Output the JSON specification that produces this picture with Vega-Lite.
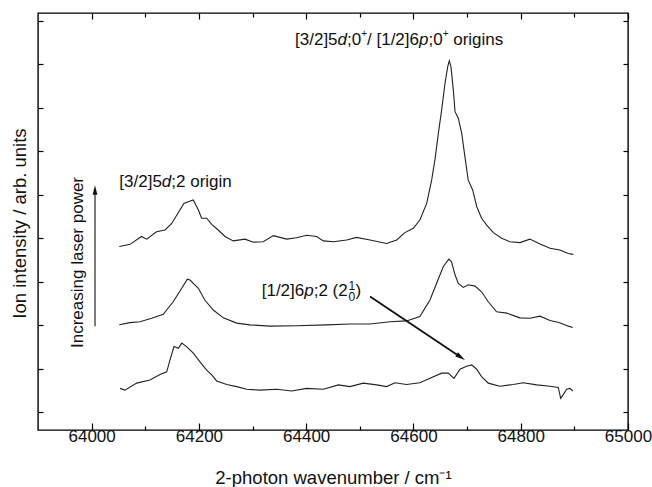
{
  "$schema": "https://vega.github.io/schema/vega-lite/v6.json",
  "width": 590,
  "height": 417,
  "autosize": "none",
  "padding": {"left": 38, "top": 13, "right": 24, "bottom": 57},
  "background": "white",
  "config": {
    "view": {"stroke": "black", "strokeWidth": 1.4},
    "axis": {"domain": false, "grid": false, "tickColor": "black", "tickWidth": 1.2, "labelFont": "Liberation Sans", "labelFontSize": 17, "labelColor": "#111", "titleFont": "Liberation Sans", "titleFontSize": 18.5, "titleFontWeight": "normal", "titleColor": "#111"}
  },
  "datasets": {
    "spectra": [
      {"s":"top","x":64051.6,"y":3.81},{"s":"top","x":64071.5,"y":3.86},{"s":"top","x":64093,"y":4.04},{"s":"top","x":64102.6,"y":3.98},{"s":"top","x":64121,"y":4.15},{"s":"top","x":64136.8,"y":4.19},{"s":"top","x":64149.3,"y":4.34},{"s":"top","x":64158.6,"y":4.53},{"s":"top","x":64172,"y":4.8},{"s":"top","x":64180,"y":4.84},{"s":"top","x":64189.6,"y":4.88},{"s":"top","x":64199,"y":4.65},{"s":"top","x":64205,"y":4.46},{"s":"top","x":64214.5,"y":4.46},{"s":"top","x":64223.9,"y":4.32},{"s":"top","x":64236,"y":4.19},{"s":"top","x":64248.7,"y":4.04},{"s":"top","x":64264,"y":3.94},{"s":"top","x":64286,"y":3.98},{"s":"top","x":64301.5,"y":3.91},{"s":"top","x":64320,"y":3.92},{"s":"top","x":64338.7,"y":4.06},{"s":"top","x":64363.7,"y":3.98},{"s":"top","x":64382,"y":4.01},{"s":"top","x":64401,"y":4.07},{"s":"top","x":64419.6,"y":4.04},{"s":"top","x":64432,"y":3.94},{"s":"top","x":64450.6,"y":3.92},{"s":"top","x":64475.5,"y":3.96},{"s":"top","x":64494,"y":4.02},{"s":"top","x":64519,"y":3.96},{"s":"top","x":64550,"y":3.88},{"s":"top","x":64568.8,"y":3.96},{"s":"top","x":64584,"y":4.13},{"s":"top","x":64599.7,"y":4.23},{"s":"top","x":64612,"y":4.42},{"s":"top","x":64624.7,"y":4.8},{"s":"top","x":64634,"y":5.34},{"s":"top","x":64640,"y":5.8},{"s":"top","x":64646.4,"y":6.41},{"s":"top","x":64652.6,"y":6.95},{"s":"top","x":64658.8,"y":7.56},{"s":"top","x":64663.8,"y":7.94},{"s":"top","x":64666.8,"y":8.08},{"s":"top","x":64670,"y":7.94},{"s":"top","x":64674.3,"y":7.41},{"s":"top","x":64677.5,"y":6.91},{"s":"top","x":64683.6,"y":6.76},{"s":"top","x":64690,"y":6.41},{"s":"top","x":64696,"y":5.87},{"s":"top","x":64702,"y":5.34},{"s":"top","x":64710.4,"y":5.11},{"s":"top","x":64717.9,"y":4.73},{"s":"top","x":64727,"y":4.46},{"s":"top","x":64736.6,"y":4.3},{"s":"top","x":64749,"y":4.13},{"s":"top","x":64764.5,"y":4.0},{"s":"top","x":64780,"y":3.92},{"s":"top","x":64798.6,"y":3.9},{"s":"top","x":64817,"y":3.98},{"s":"top","x":64836,"y":3.87},{"s":"top","x":64854.6,"y":3.77},{"s":"top","x":64873,"y":3.73},{"s":"top","x":64888.7,"y":3.65},{"s":"top","x":64898,"y":3.63},
      {"s":"mid","x":64051.6,"y":2.01},{"s":"mid","x":64071.5,"y":2.06},{"s":"mid","x":64090,"y":2.08},{"s":"mid","x":64112,"y":2.16},{"s":"mid","x":64133.6,"y":2.25},{"s":"mid","x":64152,"y":2.54},{"s":"mid","x":64168,"y":2.85},{"s":"mid","x":64178.4,"y":3.06},{"s":"mid","x":64183.4,"y":3.04},{"s":"mid","x":64199,"y":2.85},{"s":"mid","x":64211,"y":2.58},{"s":"mid","x":64226.8,"y":2.35},{"s":"mid","x":64245.5,"y":2.17},{"s":"mid","x":64270.5,"y":2.05},{"s":"mid","x":64295,"y":2.01},{"s":"mid","x":64332.5,"y":1.98},{"s":"mid","x":64382,"y":1.99},{"s":"mid","x":64438,"y":2.01},{"s":"mid","x":64481.7,"y":2.03},{"s":"mid","x":64519,"y":2.03},{"s":"mid","x":64556,"y":2.08},{"s":"mid","x":64587,"y":2.1},{"s":"mid","x":64612,"y":2.2},{"s":"mid","x":64630.8,"y":2.58},{"s":"mid","x":64643,"y":2.96},{"s":"mid","x":64655.7,"y":3.35},{"s":"mid","x":64666,"y":3.52},{"s":"mid","x":64671,"y":3.46},{"s":"mid","x":64677.5,"y":3.16},{"s":"mid","x":64683.6,"y":2.96},{"s":"mid","x":64693,"y":2.87},{"s":"mid","x":64702,"y":2.93},{"s":"mid","x":64714.7,"y":2.9},{"s":"mid","x":64727,"y":2.77},{"s":"mid","x":64739.5,"y":2.54},{"s":"mid","x":64755,"y":2.31},{"s":"mid","x":64773.8,"y":2.28},{"s":"mid","x":64798.6,"y":2.17},{"s":"mid","x":64817,"y":2.16},{"s":"mid","x":64836,"y":2.21},{"s":"mid","x":64854.6,"y":2.11},{"s":"mid","x":64873,"y":2.06},{"s":"mid","x":64888.7,"y":1.98},{"s":"mid","x":64897,"y":1.95},
      {"s":"bot","x":64053,"y":0.55},{"s":"bot","x":64062,"y":0.51},{"s":"bot","x":64084,"y":0.67},{"s":"bot","x":64108.8,"y":0.74},{"s":"bot","x":64127.5,"y":0.87},{"s":"bot","x":64140,"y":0.93},{"s":"bot","x":64146,"y":1.2},{"s":"bot","x":64153.6,"y":1.51},{"s":"bot","x":64161.6,"y":1.47},{"s":"bot","x":64168,"y":1.59},{"s":"bot","x":64177,"y":1.51},{"s":"bot","x":64189.6,"y":1.36},{"s":"bot","x":64202,"y":1.16},{"s":"bot","x":64214.5,"y":0.97},{"s":"bot","x":64223.9,"y":0.86},{"s":"bot","x":64233,"y":0.72},{"s":"bot","x":64251.8,"y":0.64},{"s":"bot","x":64270.5,"y":0.59},{"s":"bot","x":64289,"y":0.53},{"s":"bot","x":64314,"y":0.51},{"s":"bot","x":64345,"y":0.53},{"s":"bot","x":64373,"y":0.49},{"s":"bot","x":64401,"y":0.55},{"s":"bot","x":64432,"y":0.53},{"s":"bot","x":64460,"y":0.63},{"s":"bot","x":64481.7,"y":0.59},{"s":"bot","x":64506.5,"y":0.67},{"s":"bot","x":64531.5,"y":0.63},{"s":"bot","x":64550,"y":0.59},{"s":"bot","x":64565.6,"y":0.68},{"s":"bot","x":64587,"y":0.64},{"s":"bot","x":64612,"y":0.68},{"s":"bot","x":64630.8,"y":0.78},{"s":"bot","x":64652.6,"y":0.9},{"s":"bot","x":64665,"y":0.9},{"s":"bot","x":64675.6,"y":0.78},{"s":"bot","x":64686.8,"y":0.99},{"s":"bot","x":64699,"y":1.06},{"s":"bot","x":64708.6,"y":1.09},{"s":"bot","x":64717.9,"y":0.99},{"s":"bot","x":64727,"y":0.82},{"s":"bot","x":64739.5,"y":0.67},{"s":"bot","x":64761,"y":0.6},{"s":"bot","x":64786,"y":0.64},{"s":"bot","x":64804.6,"y":0.68},{"s":"bot","x":64829.8,"y":0.63},{"s":"bot","x":64854.6,"y":0.6},{"s":"bot","x":64870,"y":0.57},{"s":"bot","x":64874.5,"y":0.32},{"s":"bot","x":64879,"y":0.4},{"s":"bot","x":64885.6,"y":0.53},{"s":"bot","x":64891.7,"y":0.55},{"s":"bot","x":64897,"y":0.49}
    ]
  },
  "resolve": {"axis": {"x": "independent", "y": "independent"}},
  "layer": [
    {
      "data": {"name": "spectra"},
      "mark": {"type": "line", "color": "#222", "strokeWidth": 1.1},
      "encoding": {
        "x": {"field": "x", "type": "quantitative", "scale": {"domain": [63900, 65000], "nice": false, "zero": false},
              "axis": {"orient": "bottom", "values": [64000, 64200, 64400, 64600, 64800, 65000], "format": "d", "tickSize": -7, "labelPadding": 5, "labelFlush": false, "labelOverlap": false, "title": "2-photon wavenumber / cm⁻¹", "titleY": 53, "titleBaseline": "alphabetic"}},
        "y": {"field": "y", "type": "quantitative", "scale": {"domain": [-0.407, 9.177], "nice": false, "zero": false},
              "axis": {"orient": "left", "values": [0, 1, 2, 3, 4, 5, 6, 7, 8, 9], "tickSize": -5, "labels": false, "title": "Ion intensity / arb. units", "titleAngle": 270, "titleX": -13, "titleY": 210, "titleBaseline": "alphabetic", "titleAlign": "center"}},
        "detail": {"field": "s"}
      }
    },
    {
      "data": {"name": "spectra"},
      "mark": {"type": "point", "opacity": 0},
      "encoding": {
        "x": {"field": "x", "type": "quantitative", "axis": {"orient": "bottom", "values": [64100, 64300, 64500, 64700, 64900], "tickSize": -4, "labels": false, "title": null}},
        "y": {"field": "y", "type": "quantitative", "axis": {"orient": "right", "values": [0, 1, 2, 3, 4, 5, 6, 7, 8, 9], "tickSize": -5, "labels": false, "title": null}}
      }
    },
    {
      "data": {"name": "spectra"},
      "mark": {"type": "point", "opacity": 0},
      "encoding": {
        "x": {"field": "x", "type": "quantitative", "axis": {"orient": "top", "values": [64000, 64200, 64400, 64600, 64800, 65000], "tickSize": -6, "labels": false, "title": null}},
        "y": {"field": "y", "type": "quantitative", "axis": null}
      }
    },
    {
      "data": {"name": "spectra"},
      "mark": {"type": "point", "opacity": 0},
      "encoding": {
        "x": {"field": "x", "type": "quantitative", "axis": {"orient": "top", "values": [64100, 64300, 64500, 64700, 64900], "tickSize": -4, "labels": false, "title": null}},
        "y": {"field": "y", "type": "quantitative", "axis": null}
      }
    },
    {
      "data": {"values": [
        {"x": 64379.2, "y": 8.442, "t": "[3/2]5"},
        {"x": 64476.1, "y": 8.442, "t": ";0"},
        {"x": 64513.4, "y": 8.442, "t": "/ [1/2]6"},
        {"x": 64627.9, "y": 8.442, "t": ";0"},
        {"x": 64674.1, "y": 8.442, "t": "origins"},
        {"x": 64051.6, "y": 5.17, "t": "[3/2]5"},
        {"x": 64148.5, "y": 5.17, "t": ";2 origin"},
        {"x": 64317.1, "y": 2.673, "t": "[1/2]6"},
        {"x": 64414.0, "y": 2.673, "t": ";2 (2"},
        {"x": 64491.9, "y": 2.673, "t": ")"}
      ]},
      "mark": {"type": "text", "align": "left", "baseline": "alphabetic", "font": "Liberation Sans", "fontSize": 17, "color": "#111"},
      "encoding": {
        "x": {"field": "x", "type": "quantitative", "axis": null},
        "y": {"field": "y", "type": "quantitative", "axis": null},
        "text": {"field": "t"}
      }
    },
    {
      "data": {"values": [
        {"x": 64458.5, "y": 8.442, "t": "d"},
        {"x": 64610.3, "y": 8.442, "t": "p"},
        {"x": 64130.8, "y": 5.17, "t": "d"},
        {"x": 64396.3, "y": 2.673, "t": "p"}
      ]},
      "mark": {"type": "text", "align": "left", "baseline": "alphabetic", "font": "Liberation Sans", "fontSize": 17, "fontStyle": "italic", "color": "#111"},
      "encoding": {
        "x": {"field": "x", "type": "quantitative", "axis": null},
        "y": {"field": "y", "type": "quantitative", "axis": null},
        "text": {"field": "t"}
      }
    },
    {
      "data": {"values": [
        {"x": 64502.5, "y": 8.62, "t": "+"},
        {"x": 64654.4, "y": 8.62, "t": "+"}
      ]},
      "mark": {"type": "text", "align": "left", "baseline": "alphabetic", "font": "Liberation Sans", "fontSize": 10, "color": "#111"},
      "encoding": {
        "x": {"field": "x", "type": "quantitative", "axis": null},
        "y": {"field": "y", "type": "quantitative", "axis": null},
        "text": {"field": "t"}
      }
    },
    {
      "data": {"values": [
        {"x": 64478.9, "y": 2.81, "t": "1"},
        {"x": 64478.9, "y": 2.547, "t": "0"}
      ]},
      "mark": {"type": "text", "align": "left", "baseline": "alphabetic", "font": "Liberation Sans", "fontSize": 12, "color": "#111"},
      "encoding": {
        "x": {"field": "x", "type": "quantitative", "axis": null},
        "y": {"field": "y", "type": "quantitative", "axis": null},
        "text": {"field": "t"}
      }
    },
    {
      "data": {"values": [{"x": 63984.5, "y": 3.443, "t": "Increasing laser power"}]},
      "mark": {"type": "text", "align": "center", "baseline": "alphabetic", "angle": 270, "font": "Liberation Sans", "fontSize": 17, "color": "#111"},
      "encoding": {
        "x": {"field": "x", "type": "quantitative", "axis": null},
        "y": {"field": "y", "type": "quantitative", "axis": null},
        "text": {"field": "t"}
      }
    },
    {
      "data": {"values": [{"x": 64519, "y": 2.66, "x2": 64688.3, "y2": 1.266}]},
      "mark": {"type": "rule", "color": "#111", "strokeWidth": 1.8},
      "encoding": {
        "x": {"field": "x", "type": "quantitative", "axis": null},
        "y": {"field": "y", "type": "quantitative", "axis": null},
        "x2": {"field": "x2"},
        "y2": {"field": "y2"}
      }
    },
    {
      "data": {"values": [{"x": 64006.3, "y": 1.98, "y2": 5.11}]},
      "mark": {"type": "rule", "color": "#111", "strokeWidth": 1.1},
      "encoding": {
        "x": {"field": "x", "type": "quantitative", "axis": null},
        "y": {"field": "y", "type": "quantitative", "axis": null},
        "y2": {"field": "y2"}
      }
    },
    {
      "data": {"values": [{"x": 64688.3, "y": 1.266}]},
      "mark": {"type": "point", "shape": "M0,-1L-0.5,1L0.5,1Z", "size": 100, "filled": true, "opacity": 1, "color": "#111", "angle": 123.8},
      "encoding": {
        "x": {"field": "x", "type": "quantitative", "axis": null},
        "y": {"field": "y", "type": "quantitative", "axis": null}
      }
    },
    {
      "data": {"values": [{"x": 64006.3, "y": 5.11}]},
      "mark": {"type": "point", "shape": "M0,-1L-0.5,1L0.5,1Z", "size": 90, "filled": true, "opacity": 1, "color": "#111"},
      "encoding": {
        "x": {"field": "x", "type": "quantitative", "axis": null},
        "y": {"field": "y", "type": "quantitative", "axis": null}
      }
    }
  ]
}
